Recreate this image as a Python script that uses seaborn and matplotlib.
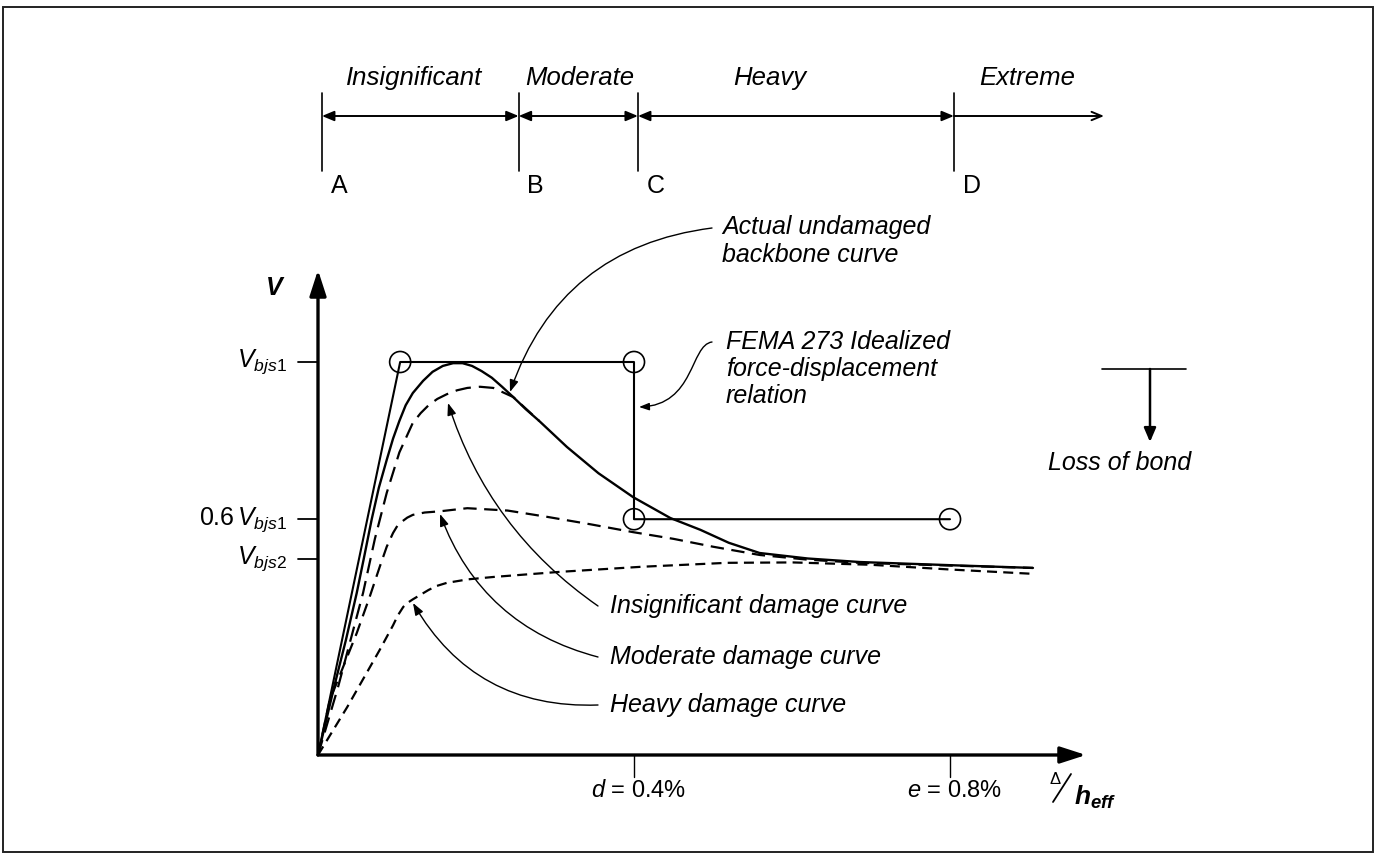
import numpy as np
import pandas as pd
import seaborn as sns
import matplotlib.pyplot as plt
from matplotlib.patches import Rectangle, FancyArrowPatch
from matplotlib.path import Path

# drift ratio Delta/h_eff (%) vs shear normalised by V_bjs1
backbone_x = [0, 0.02, 0.035, 0.049, 0.058, 0.068, 0.077, 0.087, 0.095, 0.103, 0.111, 0.12,
              0.133, 0.145, 0.158, 0.171, 0.183, 0.195, 0.207, 0.22, 0.233, 0.247, 0.263,
              0.28, 0.315, 0.355, 0.399, 0.446, 0.484, 0.52, 0.559, 0.62, 0.686, 0.8, 0.905]
backbone_y = [0, 0.17, 0.29, 0.412, 0.5, 0.6, 0.68, 0.751, 0.805, 0.85, 0.89, 0.921,
              0.952, 0.975, 0.99, 0.997, 0.997, 0.99, 0.977, 0.96, 0.937, 0.911, 0.88,
              0.85, 0.784, 0.717, 0.656, 0.603, 0.573, 0.54, 0.514, 0.5, 0.491, 0.483, 0.476]

insig_x = [0, 0.025, 0.057, 0.072, 0.087, 0.103, 0.12, 0.13, 0.14, 0.151, 0.163, 0.176,
           0.189, 0.205, 0.222, 0.247, 0.28]
insig_y = [0, 0.17, 0.412, 0.55, 0.667, 0.77, 0.845, 0.87, 0.89, 0.906, 0.918, 0.928,
           0.934, 0.937, 0.934, 0.911, 0.85]

moder_x = [0, 0.015, 0.049, 0.065, 0.078, 0.087, 0.095, 0.101, 0.107, 0.113, 0.12, 0.135,
           0.154, 0.189, 0.24, 0.29, 0.345, 0.399, 0.45, 0.5, 0.559, 0.62, 0.686, 0.8, 0.905]
moder_y = [0, 0.14, 0.31, 0.4, 0.478, 0.53, 0.565, 0.585, 0.595, 0.604, 0.611, 0.617,
           0.62, 0.628, 0.622, 0.606, 0.587, 0.567, 0.55, 0.53, 0.509, 0.497, 0.489, 0.482, 0.476]

heavy_x = [0, 0.037, 0.078, 0.095, 0.101, 0.108, 0.114, 0.12, 0.13, 0.14, 0.15, 0.163, 0.19,
           0.222, 0.306, 0.41, 0.518, 0.601, 0.7, 0.8, 0.905]
heavy_y = [0, 0.122, 0.267, 0.33, 0.355, 0.377, 0.388, 0.396, 0.408, 0.42, 0.43, 0.438, 0.447,
           0.453, 0.466, 0.479, 0.489, 0.49, 0.484, 0.472, 0.461]

fema_x = [0, 0.104, 0.4, 0.4, 0.8]
fema_y = [0, 1.0, 1.0, 0.6, 0.6]

ytick_vals = [1.0, 0.6, 0.5]
ytick_labels = [r'$V_{bjs1}$', r'$\mathrm{0.6}\,V_{bjs1}$', r'$V_{bjs2}$']
xtick_vals = [0.4, 0.8]
xtick_labels = [r'$d$ = 0.4%', r'$e$ = 0.8%']

# damage states along the top
state_bounds = [0.005, 0.254, 0.405, 0.805]
state_end = 0.995
state_names = ['Insignificant', 'Moderate', 'Heavy', 'Extreme']
state_letters = ['A', 'B', 'C', 'D']

sns.set_theme(style='white')
plt.rcParams['font.family'] = ['Liberation Sans', 'DejaVu Sans']
plt.rcParams['text.color'] = 'black'
plt.rcParams['mathtext.fontset'] = 'custom'
plt.rcParams['mathtext.it'] = 'Liberation Sans:italic'
plt.rcParams['mathtext.rm'] = 'Liberation Sans'
plt.rcParams['mathtext.bf'] = 'Liberation Sans:bold:italic'

W, H = 1378, 861
X0, Y0, SX, SY = 318, 755, 790, 393   # origin pixel and pixels per unit


def P(px, py):
    # page pixel -> data coords, used for placing labels and callouts
    return ((px - X0) / SX, (Y0 - py) / SY)


fig = plt.figure(figsize=(W / 100, H / 100), dpi=100)
ax = fig.add_axes([0, 0, 1, 1])
ax.set_xlim(P(0, 0)[0], P(W, 0)[0])
ax.set_ylim(P(0, H)[1], P(0, 0)[1])
ax.axis('off')

fig.patches.append(Rectangle((3 / W, 1 - 852 / H), 1370 / W, 845 / H, transform=fig.transFigure,
                             fill=False, edgecolor='#222222', lw=1.4))

k = 'black'
it = dict(style='italic', fontsize=18, color=k)

# axes with arrows
ax.annotate('', xy=P(318, 270), xytext=(0, 0),
            arrowprops=dict(arrowstyle='-|>,head_length=1.3,head_width=0.42', color=k, lw=2.4,
                            shrinkA=0, shrinkB=0))
ax.annotate('', xy=P(1086, 755), xytext=(0, 0),
            arrowprops=dict(arrowstyle='-|>,head_length=1.3,head_width=0.42', color=k, lw=2.4,
                            shrinkA=0, shrinkB=0))
ax.text(*P(274, 288), 'V', fontsize=18, style='italic', weight='bold', ha='center', va='center')

for v, lab in zip(ytick_vals, ytick_labels):
    ax.plot([-0.025, 0], [v, v], color=k, lw=1.3)
    ax.text(P(287, 0)[0], v, lab, fontsize=18, ha='right', va='center')
for v, lab in zip(xtick_vals, xtick_labels):
    ax.plot([v, v], [0, P(0, 777)[1]], color=k, lw=1.0)
    ax.text(v + 0.006, P(0, 791)[1], lab, fontsize=17, ha='center', va='center')

# Delta / h_eff axis name
ax.text(*P(1055, 779), r'$\Delta$', fontsize=12, ha='center', va='center')
ax.plot([P(1053, 0)[0], P(1071, 0)[0]], [P(0, 802)[1], P(0, 774)[1]], color=k, lw=1.3)
ax.text(*P(1074, 797), r'$\mathbf{h}_{\mathbf{eff}}$', fontsize=19, ha='left', va='center')

# curves
sns.lineplot(x=backbone_x, y=backbone_y, sort=False, estimator=None, ax=ax, color=k, lw=1.7)
sns.lineplot(x=insig_x, y=insig_y, sort=False, estimator=None, ax=ax, color=k, lw=1.6,
             linestyle=(0, (7, 3.6)))
sns.lineplot(x=moder_x, y=moder_y, sort=False, estimator=None, ax=ax, color=k, lw=1.6,
             linestyle=(0, (6, 3.4)))
sns.lineplot(x=heavy_x, y=heavy_y, sort=False, estimator=None, ax=ax, color=k, lw=1.6,
             linestyle=(0, (4.5, 2.8)))
sns.lineplot(x=fema_x, y=fema_y, sort=False, estimator=None, ax=ax, color=k, lw=1.5)
ax.scatter(fema_x[1:], fema_y[1:], s=230, facecolors='none', edgecolors=k, linewidths=1.2, zorder=5)

# damage state scale
top_y, bot_y, arr_y = P(0, 93)[1], P(0, 171)[1], P(0, 116)[1]
for b, let in zip(state_bounds, state_letters):
    ax.plot([b, b], [bot_y, top_y], color=k, lw=1.2)
    ax.text(b + 0.011, P(0, 186)[1], let, fontsize=18, ha='left', va='center')
ends = state_bounds + [state_end]
for i, name in enumerate(state_names):
    a, b = ends[i], ends[i + 1]
    style = '->' if i == len(state_names) - 1 else '<|-|>'
    ax.annotate('', xy=(b, arr_y), xytext=(a, arr_y),
                arrowprops=dict(arrowstyle=style + ',head_length=0.6,head_width=0.25', color=k,
                                lw=1.4, shrinkA=0, shrinkB=0))
name_x = [414, 580, 770, 1027]
for name, px in zip(state_names, name_x):
    ax.text(*P(px, 78), name, ha='center', va='center', fontsize=18.5, style='italic')

# callouts
conn = dict(arrowstyle='-|>,head_length=0.6,head_width=0.22', color=k, lw=1.0, shrinkA=0, shrinkB=0)
ax.text(*P(722, 241), 'Actual undamaged\nbackbone curve', ha='left', va='center',
        linespacing=1.2, **it)
ax.annotate('', xy=P(510, 392), xytext=P(712, 228),
            arrowprops=dict(connectionstyle='arc3,rad=0.31', **conn))
ax.text(*P(726, 369), 'FEMA 273 Idealized\nforce-displacement\nrelation', ha='left', va='center',
        linespacing=1.18, **it)
s_curve = Path([P(712, 342), P(690, 345), P(695, 405), P(639, 407)],
               [Path.MOVETO, Path.CURVE4, Path.CURVE4, Path.CURVE4])
ax.add_patch(FancyArrowPatch(path=s_curve, mutation_scale=10, **conn))
labels_cb = ['Insignificant damage curve', 'Moderate damage curve', 'Heavy damage curve']
lab_y = [606, 657, 705]
tips = [(448, 403), (440, 514), (413, 603)]
rads = [-0.17, -0.26, -0.3]
for lab, ly, tip, r in zip(labels_cb, lab_y, tips, rads):
    ax.text(*P(610, ly), lab, ha='left', va='center', **it)
    ax.annotate('', xy=P(*tip), xytext=P(598, ly),
                arrowprops=dict(connectionstyle=f'arc3,rad={r}', **conn))

# loss of bond
ax.plot([P(1102, 0)[0], P(1186, 0)[0]], [P(0, 369)[1]] * 2, color=k, lw=1.2)
ax.annotate('', xy=P(1150, 442), xytext=P(1150, 369),
            arrowprops=dict(arrowstyle='-|>,head_length=0.7,head_width=0.3', color=k, lw=1.8,
                            shrinkA=0, shrinkB=0))
ax.text(*P(1120, 463), 'Loss of bond', ha='center', va='center', **it)

fig.savefig('out.png', dpi=100)
